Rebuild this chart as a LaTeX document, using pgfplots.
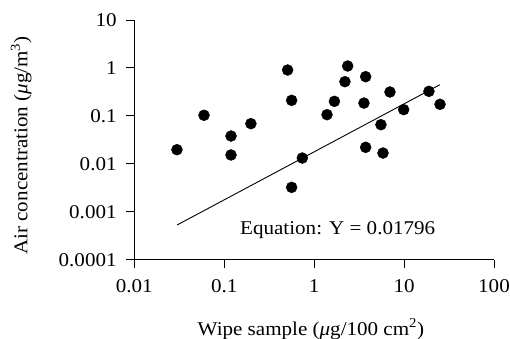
\documentclass[border=0pt]{standalone}
\usepackage{fontspec}
\setmainfont{Liberation Serif}[FakeStretch=1.08]
\usepackage{pgfplots}
\pgfplotsset{compat=1.18}
\begin{document}
\fontsize{19.5}{23}\selectfont
\begin{tikzpicture}
\useasboundingbox (-134.3pt,-79.3pt) rectangle (375.7pt,259.7pt);
\begin{axis}[
  scale only axis,
  width=359.7pt, height=239.7pt,
  xmode=log, ymode=log,
  xmin=0.01, xmax=100, ymin=0.0001, ymax=10,
  axis x line*=bottom, axis y line*=left,
  axis line style={line width=0.9pt, -},
  xtick={0.01,0.1,1,10,100},
  xticklabels={0.01,0.1,1,10,100},
  ytick={0.0001,0.001,0.01,0.1,1,10},
  yticklabels={0.0001,0.001,0.01,0.1,1,10},
  minor tick num=0,
  log ticks with fixed point,
  tick align=outside,
  major tick length=8pt,
  tick style={line width=0.9pt, black},
  every minor tick/.style={draw=none},
  /pgf/number format/assume math mode=true,
  xticklabel style={yshift=-5pt},
  yticklabel style={xshift=-3pt},
  clip=false,
]
\addplot[only marks, mark=*, mark size=5.5pt, black] coordinates {
(0.0298,0.0197) (0.0596,0.103) (0.119,0.038) (0.119,0.0153) (0.198,0.0688)
(0.507,0.905) (0.562,0.211) (0.562,0.00323) (0.738,0.0132) (1.39,0.106)
(1.68,0.201) (2.20,0.517) (2.36,1.097) (3.74,0.657) (3.58,0.185)
(3.74,0.0221) (5.53,0.0655) (5.83,0.0168) (6.97,0.315) (9.9,0.135)
(18.9,0.325) (25.1,0.174)
};
\addplot[black, line width=0.9pt] coordinates {(0.0299,0.000529) (25.1,0.448)};
\node[anchor=base] at (axis cs:1.828,0.000339) {Equation: Y = 0.01796};
\end{axis}
\node[anchor=base] at (176.6pt,-75.3pt) {Wipe sample ({\itshape μ}g/100 cm\textsuperscript{2})};
\node[anchor=base, rotate=90] at (-106.8pt,114.2pt) {Air concentration ({\itshape μ}g/m\textsuperscript{3})};
\end{tikzpicture}
\end{document}
